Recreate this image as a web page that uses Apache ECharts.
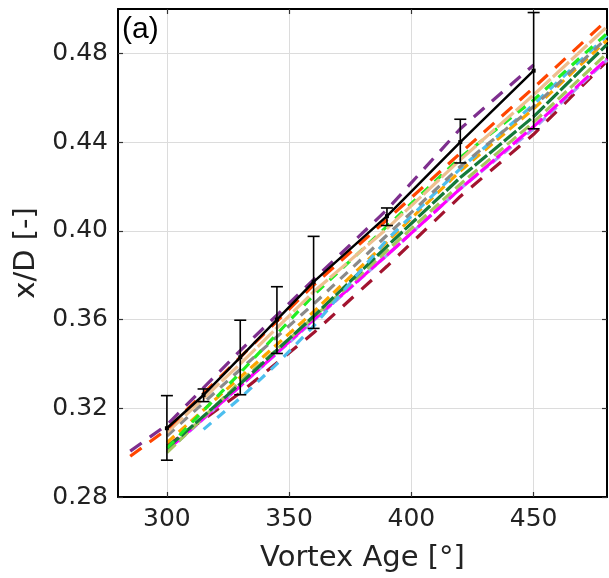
<!DOCTYPE html>
<html><head><meta charset="utf-8">
<script src="https://cdn.jsdelivr.net/npm/echarts@6/dist/echarts.min.js"></script>
<style>html,body{margin:0;padding:0;background:#fff}#c{width:609px;height:578px}</style>
</head><body><div id="c"></div>
<script>
// Tick labels
const xTicks = [300, 350, 400, 450];
const yTicks = [0.28, 0.32, 0.36, 0.40, 0.44, 0.48];

// Experimental data (black line with error bars)
const expAge  = [300, 315, 330, 345, 360, 390, 420, 450];
const expMean = [0.311, 0.326, 0.343, 0.360, 0.377, 0.4066, 0.440, 0.4722];
const expLow  = [0.2966, 0.3230, 0.3261, 0.3447, 0.3560, 0.4024, 0.4306, 0.4460];
const expHigh = [0.3257, 0.3287, 0.3597, 0.3748, 0.3975, 0.4103, 0.4503, 0.4984];

// Simulation curves (dashed)
const simAge    = [285, 300, 330, 360, 390, 420, 450, 480];
const purple    = [0.3007, 0.3125, 0.346, 0.378, 0.4095, 0.446, 0.4748, null];
const orangered = [0.2984, 0.3105, 0.343, 0.3755, 0.405, 0.435, 0.4645, 0.495];
const tan       = [null, 0.309, 0.340, 0.3725, 0.401, 0.432, 0.4613, 0.492];
const lime      = [null, 0.302, 0.336, 0.371, 0.402, 0.433, 0.459, 0.489];
const gray      = [null, 0.3075, 0.3375, 0.367, 0.398, 0.429, 0.456, 0.487];
const orange    = [null, 0.3045, 0.334, 0.3635, 0.395, 0.427, 0.455, 0.486];
const darkgreen = [null, 0.302, 0.331, 0.3615, 0.393, 0.424, 0.4515, 0.484];
const yellowgreen = [null, 0.300, 0.332, 0.361, 0.391, 0.421, 0.449, 0.480];
const magenta   = [null, 0.301, 0.330, 0.360, 0.389, 0.419, 0.447, 0.4775];
const lavender  = [null, 0.3005, 0.330, 0.3595, 0.389, 0.419, 0.446, 0.477];
const crimson   = [null, 0.303, 0.327, 0.354, 0.384, 0.4155, 0.4435, 0.4765];
const skyAge    = [315, 330, 345, 360, 390, 420, 450, 480];
const skyblue   = [0.3105, 0.3246, 0.340, 0.357, 0.396, 0.428, 0.457, 0.488];

function pairs(xs, ys) {
  const out = [];
  xs.forEach((x, i) => { if (ys[i] !== null) out.push([x, ys[i]]); });
  return out;
}
function dashed(name, xs, ys, color, dash, width) {
  return {
    name, type: 'line', data: pairs(xs, ys), showSymbol: false, symbol: 'none',
    lineStyle: { color, width: width || 3.2, type: dash, cap: 'butt' },
    silent: true, animation: false, z: 2
  };
}

const font = 'DejaVu Sans';
const chart = echarts.init(document.getElementById('c'), null, { renderer: 'canvas' });
const axisLine = { show: true, onZero: false, lineStyle: { color: '#000', width: 2 } };
const tickStyle = { color: '#333', width: 1.2 };

chart.setOption({
  backgroundColor: '#fff',
  animation: false,
  grid: { left: 118, right: 2, top: 9, bottom: 80, show: false },
  xAxis: [{
    type: 'value', min: 280, max: 480, position: 'bottom',
    axisLine,
    axisTick: { show: true, inside: true, length: 5, customValues: xTicks, lineStyle: tickStyle },
    axisLabel: { customValues: xTicks, fontSize: 25, color: '#222', margin: 10, fontFamily: font },
    splitLine: { show: true, lineStyle: { color: '#dcdcdc', width: 1 } },
    name: 'Vortex Age [°]', nameLocation: 'middle', nameGap: 47,
    nameTextStyle: { fontSize: 29, color: '#222', fontFamily: font }
  }, {
    type: 'value', min: 280, max: 480, position: 'top',
    axisLine,
    axisTick: { show: true, inside: true, length: 5, customValues: xTicks, lineStyle: tickStyle },
    axisLabel: { show: false, customValues: xTicks },
    splitLine: { show: false }
  }],
  yAxis: [{
    type: 'value', min: 0.28, max: 0.50, position: 'left',
    axisLine,
    axisTick: { show: true, inside: true, length: 5, customValues: yTicks, lineStyle: tickStyle },
    axisLabel: { customValues: yTicks, fontSize: 25, color: '#222', margin: 10, fontFamily: font,
      formatter: v => Number(v).toFixed(2) },
    splitLine: { show: true, lineStyle: { color: '#dcdcdc', width: 1 } },
    name: 'x/D [-]', nameLocation: 'middle', nameGap: 74, nameRotate: 90,
    nameTextStyle: { fontSize: 29, color: '#222', fontFamily: font }
  }, {
    type: 'value', min: 0.28, max: 0.50, position: 'right',
    axisLine,
    axisTick: { show: true, inside: true, length: 5, customValues: yTicks, lineStyle: tickStyle },
    axisLabel: { show: false, customValues: yTicks },
    splitLine: { show: false }
  }],
  graphic: [{
    type: 'text', left: 122, top: 15,
    style: { text: '(a)', fontSize: 30, fill: '#000', fontFamily: 'Liberation Sans' }, z: 100
  }],
  series: [
    dashed('crimson', simAge, crimson, '#A2142F', [14, 11]),
    dashed('lavender', simAge, lavender, '#A89CF4', [10, 5]),
    dashed('magenta', simAge, magenta, '#FF00FF', [18, 3]),
    dashed('yellowgreen', simAge, yellowgreen, '#A4C75E', [12, 5]),
    dashed('darkgreen', simAge, darkgreen, '#157A3A', [16, 3]),
    dashed('orange', simAge, orange, '#FFA500', [10, 6]),
    dashed('skyblue', skyAge, skyblue, '#4DBEEE', [10, 8]),
    dashed('gray', simAge, gray, '#8A8A8A', [10, 8]),
    dashed('lime', simAge, lime, '#22EE22', [10, 8]),
    dashed('tan', simAge, tan, '#EEBF90', [22, 3]),
    dashed('orangered', simAge, orangered, '#FF4500', [14, 10]),
    {
      name: 'exp', type: 'line', data: pairs(expAge, expMean),
      symbol: 'rect', symbolSize: 4, showSymbol: true,
      itemStyle: { color: '#000' }, lineStyle: { color: '#000', width: 2.5 }, z: 3
    },
    dashed('purple', simAge, purple, '#7E2F8E', [14, 10]),
    {
      name: 'err', type: 'custom',
      data: expAge.map((a, i) => [a, expMean[i], expLow[i], expHigh[i]]),
      encode: { x: 0, y: [1, 2, 3] },
      z: 5,
      renderItem: function (params, api) {
        const lo = api.coord([api.value(0), api.value(2)]);
        const hi = api.coord([api.value(0), api.value(3)]);
        const w = 6;
        const st = { stroke: '#000', lineWidth: 1.6 };
        return {
          type: 'group', children: [
            { type: 'line', shape: { x1: lo[0], y1: lo[1], x2: hi[0], y2: hi[1] }, style: st },
            { type: 'line', shape: { x1: lo[0] - w, y1: lo[1], x2: lo[0] + w, y2: lo[1] }, style: st },
            { type: 'line', shape: { x1: hi[0] - w, y1: hi[1], x2: hi[0] + w, y2: hi[1] }, style: st }
          ]
        };
      }
    }
  ]
});
</script></body></html>
